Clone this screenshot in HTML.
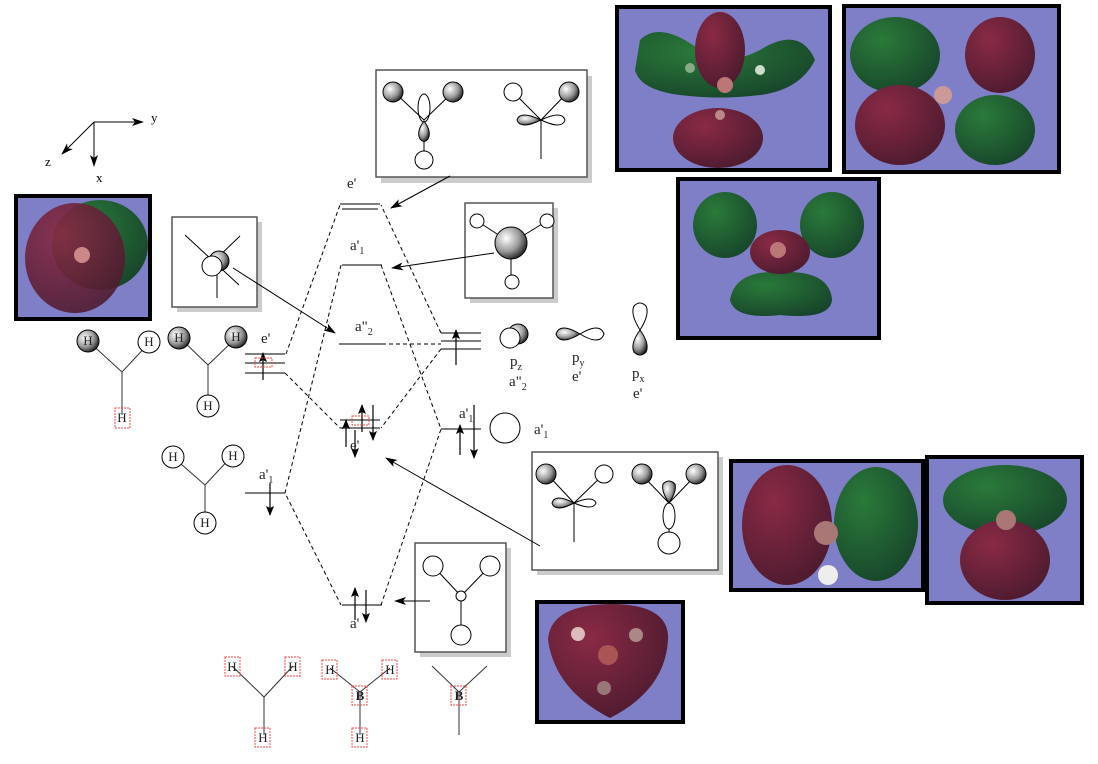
<!DOCTYPE html>
<html><head><meta charset="utf-8"><style>
html,body{margin:0;padding:0;background:#fff;}
svg{display:block;font-family:"Liberation Serif",serif;}
</style></head><body>
<svg width="1098" height="764" viewBox="0 0 1098 764" xmlns="http://www.w3.org/2000/svg">
<defs>
<radialGradient id="sph" cx="0.35" cy="0.35" r="0.7"><stop offset="0" stop-color="#fff"/><stop offset="0.6" stop-color="#999"/><stop offset="1" stop-color="#222"/></radialGradient>
<radialGradient id="red" cx="0.35" cy="0.3" r="0.8"><stop offset="0" stop-color="#8a2a45"/><stop offset="1" stop-color="#4a1a2e"/></radialGradient>
<radialGradient id="grn" cx="0.35" cy="0.3" r="0.8"><stop offset="0" stop-color="#2a7a3a"/><stop offset="1" stop-color="#17432a"/></radialGradient>
<marker id="ar" markerWidth="12" markerHeight="8" refX="11" refY="4" orient="auto" markerUnits="userSpaceOnUse"><path d="M0,0 L12,4 L0,8 L3,4z" fill="#000"/></marker>
<marker id="sa" markerWidth="10" markerHeight="8" refX="9" refY="4" orient="auto" markerUnits="userSpaceOnUse"><path d="M0,0 L10,4 L0,8 L2,4z" fill="#000"/></marker>
</defs>

<!-- axes -->
<g stroke="#000" stroke-width="1" fill="none">
<line x1="94" y1="122" x2="143" y2="122" marker-end="url(#ar)"/>
<line x1="94" y1="122" x2="94" y2="166" marker-end="url(#ar)"/>
<line x1="94" y1="122" x2="62" y2="154" marker-end="url(#ar)"/>
</g>
<text x="151" y="122" font-size="13">y</text>
<text x="96" y="182" font-size="13">x</text>
<text x="45" y="166" font-size="13">z</text>

<!-- orbital images -->
<g>
<rect x="617" y="7" width="213" height="163" fill="#7f7fc8" stroke="#000" stroke-width="4"/>
<path d="M640,40 Q660,20 700,50 Q720,70 760,50 Q800,25 815,60 Q800,90 760,95 Q720,100 680,95 Q640,90 635,70z" fill="url(#grn)"/>
<ellipse cx="720" cy="50" rx="25" ry="38" fill="url(#red)"/><ellipse cx="718" cy="138" rx="45" ry="30" fill="url(#red)"/>
<circle cx="725" cy="85" r="8" fill="#b77"/><circle cx="690" cy="68" r="5" fill="#8a8"/><circle cx="760" cy="70" r="5" fill="#cdc"/><circle cx="720" cy="115" r="5" fill="#b88"/>
<rect x="844" y="6" width="215" height="166" fill="#7f7fc8" stroke="#000" stroke-width="4"/>
<ellipse cx="895" cy="55" rx="45" ry="38" fill="url(#grn)"/><ellipse cx="1000" cy="55" rx="35" ry="38" fill="url(#red)"/>
<ellipse cx="900" cy="125" rx="45" ry="40" fill="url(#red)"/><ellipse cx="995" cy="130" rx="40" ry="35" fill="url(#grn)"/>
<circle cx="943" cy="95" r="9" fill="#c99"/>
<rect x="678" y="179" width="201" height="159" fill="#7f7fc8" stroke="#000" stroke-width="4"/>
<ellipse cx="725" cy="225" rx="32" ry="33" fill="url(#grn)"/><ellipse cx="832" cy="225" rx="32" ry="33" fill="url(#grn)"/>
<path d="M730,300 Q735,270 780,272 Q830,270 832,300 Q830,320 780,315 Q735,320 730,300z" fill="url(#grn)"/>
<ellipse cx="780" cy="252" rx="30" ry="22" fill="url(#red)"/>
<circle cx="778" cy="250" r="8" fill="#b77"/>
<rect x="16" y="196" width="134" height="123" fill="#7f7fc8" stroke="#000" stroke-width="4"/>
<ellipse cx="100" cy="245" rx="48" ry="45" fill="url(#grn)"/><ellipse cx="75" cy="258" rx="50" ry="55" fill="url(#red)" opacity="0.9"/>
<circle cx="82" cy="255" r="8" fill="#c88"/>
<rect x="731" y="461" width="192" height="129" fill="#7f7fc8" stroke="#000" stroke-width="4"/>
<ellipse cx="787" cy="525" rx="45" ry="60" fill="url(#red)"/><ellipse cx="876" cy="524" rx="42" ry="57" fill="url(#grn)"/>
<circle cx="826" cy="533" r="12" fill="#a77"/><circle cx="828" cy="575" r="10" fill="#eee"/>
<rect x="927" y="457" width="155" height="146" fill="#7f7fc8" stroke="#000" stroke-width="4"/>
<ellipse cx="1005" cy="500" rx="62" ry="35" fill="url(#grn)"/><ellipse cx="1005" cy="560" rx="45" ry="40" fill="url(#red)"/>
<circle cx="1006" cy="520" r="10" fill="#a77"/>
<rect x="537" y="602" width="146" height="120" fill="#7f7fc8" stroke="#000" stroke-width="4"/>
<path d="M548,640 Q550,605 610,604 Q670,604 668,640 Q665,690 610,718 Q555,690 548,640z" fill="url(#red)"/>
<circle cx="608" cy="655" r="10" fill="#a55"/><circle cx="578" cy="634" r="7" fill="#dbb"/><circle cx="636" cy="635" r="7" fill="#a88"/><circle cx="604" cy="688" r="7" fill="#977"/>
</g>

<!-- gray boxes -->
<g fill="#fff" stroke="#555" stroke-width="1.5">
<rect x="381" y="76" width="211" height="107" fill="#ccc" stroke="none"/><rect x="376" y="70" width="211" height="107"/>
<rect x="177" y="222" width="85" height="90" fill="#ccc" stroke="none"/><rect x="172" y="217" width="85" height="90"/>
<rect x="470" y="208" width="88" height="95" fill="#ccc" stroke="none"/><rect x="465" y="203" width="88" height="95"/>
<rect x="537" y="457" width="186" height="118" fill="#ccc" stroke="none"/><rect x="532" y="452" width="186" height="118"/>
<rect x="420" y="548" width="91" height="109" fill="#ccc" stroke="none"/><rect x="415" y="543" width="91" height="109"/>
</g>
<!-- box contents -->
<g stroke="#000" stroke-width="1" fill="none">
<line x1="394" y1="92" x2="424" y2="120"/><line x1="453" y1="92" x2="424" y2="120"/><line x1="424" y1="140" x2="424" y2="152"/>
<ellipse cx="424" cy="108" rx="6" ry="14"/>
<path d="M424,121 Q416,132 420,139 Q424,144 428,139 Q432,132 424,121z" fill="url(#sph)"/>
<circle cx="424" cy="160" r="9" fill="#fff"/>
<circle cx="393" cy="92" r="10" fill="url(#sph)"/><circle cx="453" cy="92" r="10" fill="url(#sph)"/>
<line x1="513" y1="92" x2="541" y2="120"/><line x1="568" y1="92" x2="541" y2="120"/><line x1="541" y1="120" x2="541" y2="159"/>
<path d="M541,120 Q520,110 517,120 Q520,130 541,120z" fill="url(#sph)"/><path d="M541,120 Q562,110 565,120 Q562,130 541,120z"/>
<circle cx="513" cy="92" r="9" fill="#fff"/><circle cx="569" cy="92" r="10" fill="url(#sph)"/>
<line x1="185" y1="235" x2="239" y2="285"/><line x1="240" y1="236" x2="215" y2="260"/><line x1="217" y1="275" x2="217" y2="298"/>
<circle cx="219" cy="261" r="10" fill="url(#sph)"/><circle cx="212" cy="266" r="10" fill="#fff"/>
<line x1="477" y1="221" x2="511" y2="243"/><line x1="547" y1="221" x2="511" y2="243"/><line x1="511" y1="243" x2="511" y2="282"/>
<circle cx="477" cy="221" r="7" fill="#fff"/><circle cx="547" cy="221" r="7" fill="#fff"/><circle cx="512" cy="282" r="7" fill="#fff"/>
<circle cx="511" cy="243" r="16" fill="url(#sph)"/>
<line x1="547" y1="474" x2="574" y2="503"/><line x1="604" y1="474" x2="574" y2="503"/><line x1="574" y1="503" x2="574" y2="542"/>
<path d="M574,503 Q555,493 552,503 Q555,513 574,503z" fill="url(#sph)"/><path d="M574,503 Q593,495 596,503 Q593,511 574,503z"/>
<circle cx="546" cy="474" r="10" fill="url(#sph)"/><circle cx="604" cy="474" r="9" fill="#fff"/>
<line x1="642" y1="475" x2="669" y2="503"/><line x1="696" y1="475" x2="669" y2="503"/>
<path d="M669,503 Q661,491 663,484 Q669,478 675,484 Q677,491 669,503z" fill="url(#sph)"/>
<ellipse cx="669" cy="516" rx="6" ry="13"/><line x1="669" y1="529" x2="669" y2="533"/>
<circle cx="669" cy="543" r="11" fill="#fff"/>
<circle cx="642" cy="474" r="10" fill="url(#sph)"/><circle cx="696" cy="474" r="10" fill="url(#sph)"/>
<line x1="433" y1="566" x2="461" y2="596"/><line x1="490" y1="566" x2="461" y2="596"/><line x1="461" y1="596" x2="461" y2="626"/>
<circle cx="433" cy="566" r="10" fill="#fff"/><circle cx="490" cy="566" r="10" fill="#fff"/><circle cx="461" cy="596" r="5" fill="#fff"/><circle cx="461" cy="635" r="10" fill="#fff"/>
</g>

<!-- energy levels -->
<g stroke="#555" stroke-width="1.5">
<line x1="340" y1="204" x2="380" y2="204"/><line x1="342" y1="209" x2="378" y2="209"/>
<line x1="342" y1="265" x2="382" y2="265"/>
<line x1="339" y1="344" x2="382" y2="344"/>
<line x1="340" y1="420" x2="380" y2="420"/><line x1="340" y1="428" x2="380" y2="428"/>
<line x1="342" y1="605" x2="382" y2="605"/>
<line x1="245" y1="354" x2="285" y2="354"/><line x1="245" y1="363" x2="285" y2="363"/><line x1="245" y1="373" x2="285" y2="373"/>
<line x1="245" y1="493" x2="285" y2="493"/>
<line x1="441" y1="333" x2="481" y2="333"/><line x1="441" y1="341" x2="481" y2="341"/><line x1="441" y1="349" x2="481" y2="349"/>
<line x1="441" y1="429" x2="481" y2="429"/>
</g>
<g stroke="#000" stroke-width="1" stroke-dasharray="4,3" fill="none">
<polyline points="286,354 340,205"/><polyline points="285,373 340,428"/>
<polyline points="341,265 285,493 341,605"/>
<polyline points="441,333 381,205"/><polyline points="441,349 381,428"/>
<polyline points="382,344 441,344"/>
<polyline points="381,265 441,429 381,605"/>
</g>
<!-- spin arrows -->
<g stroke="#000" stroke-width="1.2">
<line x1="263" y1="380" x2="263" y2="353" marker-end="url(#sa)"/>
<line x1="456" y1="365" x2="456" y2="330" marker-end="url(#sa)"/>
<line x1="346" y1="447" x2="346" y2="420" marker-end="url(#sa)"/>
<line x1="362" y1="432" x2="362" y2="405" marker-end="url(#sa)"/>
<line x1="373" y1="405" x2="373" y2="440" marker-end="url(#sa)"/>
<line x1="355" y1="430" x2="355" y2="457" marker-end="url(#sa)"/>
<line x1="460" y1="455" x2="460" y2="425" marker-end="url(#sa)"/>
<line x1="474" y1="405" x2="474" y2="458" marker-end="url(#sa)"/>
<line x1="270" y1="483" x2="270" y2="515" marker-end="url(#sa)"/>
<line x1="355" y1="620" x2="355" y2="588" marker-end="url(#sa)"/>
<line x1="366" y1="590" x2="366" y2="622" marker-end="url(#sa)"/>
</g>
<!-- pointer arrows -->
<g stroke="#000" stroke-width="1" fill="none">
<line x1="450" y1="176" x2="391" y2="208" marker-end="url(#ar)"/>
<line x1="494" y1="253" x2="392" y2="268" marker-end="url(#ar)"/>
<line x1="233" y1="268" x2="335" y2="333" marker-end="url(#ar)"/>
<line x1="540" y1="546" x2="386" y2="458" marker-end="url(#ar)"/>
<line x1="430" y1="601" x2="395" y2="601" marker-end="url(#ar)"/>
</g>
<!-- labels -->
<g font-size="15" fill="#222">
<text x="347" y="188">e'</text>
<text x="350" y="250">a'<tspan font-size="10" dy="4">1</tspan></text>
<text x="355" y="331">a"<tspan font-size="10" dy="4">2</tspan></text>
<text x="350" y="450">e'</text>
<text x="350" y="628">a'</text>
<text x="261" y="343">e'</text>
<text x="259" y="479">a'<tspan font-size="10" dy="4">1</tspan></text>
<text x="459" y="418">a'<tspan font-size="10" dy="4">1</tspan></text>
<text x="534" y="434">a'<tspan font-size="10" dy="4">1</tspan></text>
<text x="510" y="366">p<tspan font-size="10" dy="4">z</tspan></text>
<text x="509" y="386">a"<tspan font-size="10" dy="4">2</tspan></text>
<text x="572" y="362">p<tspan font-size="10" dy="4">y</tspan></text>
<text x="572" y="381">e'</text>
<text x="632" y="378">p<tspan font-size="10" dy="4">x</tspan></text>
<text x="633" y="398">e'</text>
</g>
<!-- right p orbitals -->
<g stroke="#000" stroke-width="1">
<circle cx="518" cy="334" r="10" fill="url(#sph)"/><circle cx="510" cy="338" r="10" fill="#fff"/>
<path d="M580,334 Q560,322 556,334 Q560,346 580,334z" fill="url(#sph)"/><path d="M580,334 Q600,322 604,334 Q600,346 580,334z" fill="#fff"/>
<path d="M640,330 Q630,314 634,306 Q640,300 646,306 Q650,314 640,330z" fill="#fff"/>
<path d="M640,330 Q630,344 634,352 Q640,358 646,352 Q650,344 640,330z" fill="url(#sph)"/>
<circle cx="505" cy="428" r="15" fill="#fff"/>
</g>
<!-- H3 fragments -->
<g stroke="#333" stroke-width="1" fill="none">
<line x1="88" y1="341" x2="122" y2="372"/><line x1="150" y1="342" x2="122" y2="372"/><line x1="122" y1="372" x2="122" y2="415"/>
<line x1="180" y1="338" x2="208" y2="365"/><line x1="236" y1="338" x2="208" y2="365"/><line x1="208" y1="365" x2="208" y2="403"/>
<line x1="173" y1="457" x2="205" y2="485"/><line x1="232" y1="456" x2="205" y2="485"/><line x1="205" y1="485" x2="205" y2="522"/>
<line x1="232" y1="666" x2="264" y2="697"/><line x1="293" y1="666" x2="264" y2="697"/><line x1="264" y1="697" x2="264" y2="735"/>
<line x1="330" y1="668" x2="360" y2="692"/><line x1="390" y1="668" x2="360" y2="692"/><line x1="360" y1="692" x2="360" y2="735"/>
<line x1="432" y1="666" x2="459" y2="692"/><line x1="487" y1="666" x2="459" y2="692"/><line x1="459" y1="692" x2="459" y2="735"/>
</g>
<g stroke="#000" stroke-width="1">
<circle cx="88" cy="341" r="11" fill="url(#sph)"/><circle cx="149" cy="342" r="11" fill="#fff"/>
<circle cx="179" cy="338" r="11" fill="url(#sph)"/><circle cx="236" cy="337" r="11" fill="url(#sph)"/><circle cx="208" cy="406" r="11" fill="#fff"/>
<circle cx="173" cy="457" r="11" fill="#fff"/><circle cx="233" cy="456" r="11" fill="#fff"/><circle cx="205" cy="523" r="11" fill="#fff"/>
</g>
<g fill="none" stroke="#f44" stroke-width="1" stroke-dasharray="2,1">
<rect x="115" y="408" width="15" height="20"/><rect x="225" y="657" width="15" height="19"/><rect x="285" y="657" width="15" height="19"/>
<rect x="255" y="728" width="15" height="19"/><rect x="322" y="660" width="15" height="19"/><rect x="382" y="660" width="15" height="19"/>
<rect x="352" y="686" width="15" height="19"/><rect x="352" y="728" width="15" height="19"/><rect x="451" y="686" width="15" height="19"/>
<rect x="255" y="358" width="17" height="9"/><rect x="352" y="416" width="17" height="9"/>
</g>
<g font-size="13" fill="#222" text-anchor="middle">
<text x="88" y="345">H</text><text x="149" y="346">H</text><text x="122" y="422">H</text>
<text x="179" y="342">H</text><text x="236" y="341">H</text><text x="208" y="410">H</text>
<text x="173" y="461">H</text><text x="233" y="460">H</text><text x="205" y="527">H</text>
<text x="232" y="671">H</text><text x="293" y="671">H</text><text x="263" y="742">H</text>
<text x="330" y="674">H</text><text x="390" y="674">H</text><text x="360" y="742">H</text>
<text x="360" y="700" font-weight="bold">B</text><text x="459" y="700" font-weight="bold">B</text>
</g>
</svg>
</body></html>
